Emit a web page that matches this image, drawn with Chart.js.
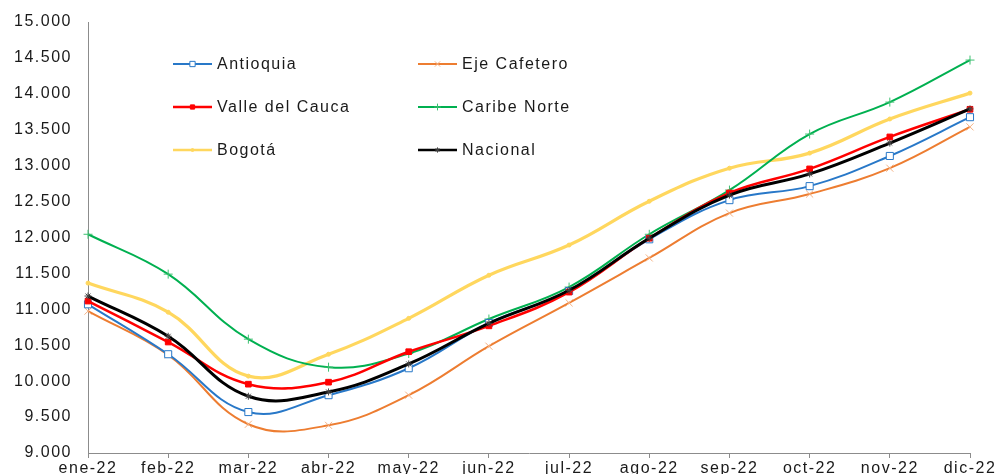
<!DOCTYPE html>
<html lang="es">
<head>
  <meta charset="UTF-8">
  <title>Índice por región 2022</title>
  <script src="https://cdn.jsdelivr.net/npm/chart.js"></script>
  <style>
    body {
      margin: 0;
      background: #fff;
    }
    #wrap {
      width: 998px;
      height: 474px;
    }
  </style>
</head>
<body>
  <div id="wrap"><canvas id="chart" width="998" height="474"></canvas></div>

  <script>
    // meses
    const months = ['ene-22', 'feb-22', 'mar-22', 'abr-22', 'may-22', 'jun-22',
                    'jul-22', 'ago-22', 'sep-22', 'oct-22', 'nov-22', 'dic-22'];

    // series
    const antioquia   = [11070, 10375, 9570, 9805, 10180, 10810, 11255, 11975, 12520, 12715, 13135, 13675];
    const ejeCafetero = [10975, 10365, 9400, 9385, 9805, 10487, 11090, 11715, 12340, 12605, 12965, 13540];
    const valle       = [11115, 10545, 9958, 9986, 10410, 10770, 11240, 11990, 12620, 12955, 13400, 13785];
    const caribe      = [12045, 11490, 10585, 10195, 10385, 10865, 11310, 12045, 12660, 13440, 13885, 14470];
    const bogota      = [11365, 10960, 10070, 10375, 10875, 11475, 11895, 12505, 12965, 13175, 13650, 14010];
    const nacional    = [11185, 10625, 9790, 9850, 10240, 10805, 11265, 11990, 12590, 12885, 13315, 13790];

    const yMin = 9000, yMax = 15000, yStep = 500;

    function fmt(v) {
      return String(v).replace(/\B(?=(\d{3})+(?!\d))/g, '.');
    }

    function series(label, data, color, style, opts) {
      return Object.assign({
        label: label,
        data: data,
        borderColor: color,
        backgroundColor: color,
        pointStyle: style,
        pointBorderColor: color,
        pointBackgroundColor: color,
        borderWidth: 2,
        pointRadius: 4,
        pointBorderWidth: 1,
        tension: 0.4,
        clip: false
      }, opts || {});
    }

    const datasets = [
      series('Antioquia', antioquia, '#2878C8', 'rect',
        { pointBackgroundColor: '#ffffff', pointRadius: 5, order: 2 }),
      series('Eje Cafetero', ejeCafetero, '#ED7D31', 'crossRot',
        { pointBorderColor: '#F4B183', pointRadius: 5, order: 4 }),
      series('Valle del Cauca', valle, '#FF0000', 'rect',
        { borderWidth: 2.5, pointRadius: 4, order: 1 }),
      series('Caribe Norte', caribe, '#00B050', 'cross',
        { pointBorderColor: '#3CC070', pointRadius: 4.5, order: 3 }),
      series('Bogotá', bogota, '#FFD75E', 'circle',
        { borderWidth: 3.2, pointRadius: 2, order: 5 }),
      series('Nacional', nacional, '#000000', 'star',
        { borderWidth: 3, pointRadius: 3.5, pointBorderColor: '#444', order: 0 })
    ];

    // leyenda dentro del area, 2 columnas x 3 filas
    const legendInside = {
      id: 'legendInside',
      afterDraw(chart) {
        const ctx = chart.ctx;
        const cols = [173, 418];
        const rows = [64, 107, 150];
        ctx.save();
        ctx.letterSpacing = '1.5px';
        ctx.font = '16px "Liberation Sans", Arial, sans-serif';
        ctx.textBaseline = 'middle';
        chart.data.datasets.forEach((ds, i) => {
          const x = cols[i % 2];
          const y = rows[Math.floor(i / 2)];
          ctx.strokeStyle = ds.borderColor;
          ctx.lineWidth = Math.min(ds.borderWidth, 2.5);
          ctx.beginPath();
          ctx.moveTo(x, y);
          ctx.lineTo(x + 39, y);
          ctx.stroke();
          ctx.fillStyle = ds.pointBackgroundColor;
          ctx.strokeStyle = ds.pointBorderColor;
          ctx.lineWidth = 1;
          Chart.helpers.drawPoint(ctx, {
            pointStyle: ds.pointStyle,
            radius: ds.pointRadius * 0.75,
            borderWidth: 1,
            rotation: 0
          }, x + 19.5, y);
          ctx.fillStyle = '#1a1a1a';
          ctx.fillText(ds.label, x + 44, y + 1);
        });
        ctx.restore();
      }
    };

    const spacing = {
      id: 'spacing',
      beforeDraw(chart) {
        chart.ctx.letterSpacing = '1.5px';
      }
    };

    new Chart(document.getElementById('chart'), {
      type: 'line',
      data: { labels: months, datasets: datasets },
      options: {
        responsive: false,
        animation: false,
        events: [],
        layout: { padding: { left: 0, top: 22, right: 28, bottom: 0 } },
        plugins: {
          legend: { display: false },
          tooltip: { enabled: false }
        },
        scales: {
          x: {
            offset: false,
            afterFit(scale) { scale.height = 21; },
            border: { color: '#8c8c8c', width: 1 },
            grid: {
              drawOnChartArea: false,
              drawTicks: true,
              tickLength: 5,
              color: '#8c8c8c'
            },
            ticks: {
              autoSkip: false,
              maxRotation: 0,
              padding: 1,
              color: '#1a1a1a',
              font: { family: '"Liberation Sans", Arial, sans-serif', size: 16 }
            }
          },
          y: {
            min: yMin,
            max: yMax,
            afterFit(scale) { scale.width = 88; },
            border: { color: '#8c8c8c', width: 1 },
            grid: {
              drawOnChartArea: false,
              drawTicks: true,
              tickLength: 14,
              color: 'rgba(0,0,0,0)'
            },
            ticks: {
              stepSize: yStep,
              padding: 2,
              color: '#1a1a1a',
              font: { family: '"Liberation Sans", Arial, sans-serif', size: 16 },
              callback: v => fmt(v)
            }
          }
        }
      },
      plugins: [spacing, legendInside]
    });
  </script>
</body>
</html>
